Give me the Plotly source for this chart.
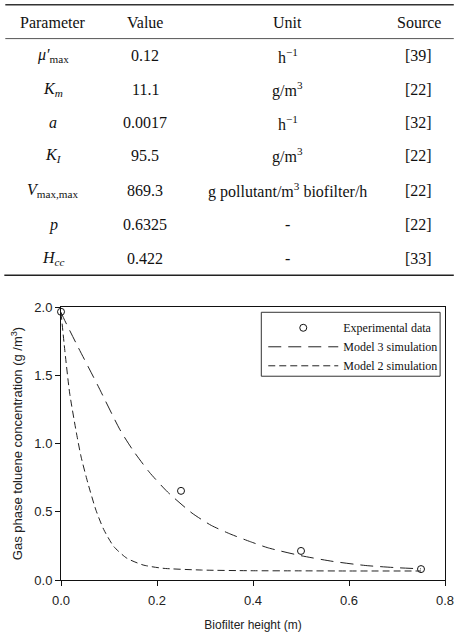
import plotly.graph_objects as go

# ---------------- table data ----------------
tbl_header = ["Parameter", "Value", "Unit", "Source"]
tbl_param = ["<i>μ′</i><sub>max</sub>", "<i>K<sub>m</sub></i>", "<i>a</i>", "<i>K<sub>I</sub></i>",
             "<i>V</i><sub>max,max</sub>", "<i>p</i>", "<i>H<sub>cc</sub></i>"]
tbl_value = ["0.12", "11.1", "0.0017", "95.5", "869.3", "0.6325", "0.422"]
tbl_unit = ["h<sup>−1</sup>", "g/m<sup>3</sup>", "h<sup>−1</sup>", "g/m<sup>3</sup>",
            "g pollutant/m<sup>3</sup> biofilter/h", "-", "-"]
tbl_source = ["[39]", "[22]", "[32]", "[22]", "[22]", "[22]", "[33]"]

# ---------------- chart data ----------------
exp_x = [0.0, 0.25, 0.5, 0.75]
exp_y = [1.965, 0.653, 0.213, 0.080]

m3_x = [0.0, 0.008, 0.035, 0.076, 0.123, 0.150, 0.184, 0.222, 0.273, 0.313, 0.354, 0.395,
        0.432, 0.500, 0.567, 0.635, 0.700, 0.750]
m3_y = [1.96, 1.90, 1.71, 1.43, 1.10, 0.95, 0.79, 0.645, 0.49, 0.40, 0.335, 0.28,
        0.235, 0.178, 0.136, 0.106, 0.090, 0.082]

m2_x = [0.0, 0.008, 0.018, 0.032, 0.042, 0.056, 0.073, 0.089, 0.110, 0.137, 0.171, 0.212,
        0.293, 0.395, 0.500, 0.600, 0.750]
m2_y = [1.96, 1.68, 1.37, 1.08, 0.90, 0.71, 0.51, 0.37, 0.245, 0.16, 0.11, 0.086,
        0.073, 0.068, 0.067, 0.066, 0.066]

x_ticks = [0.0, 0.2, 0.4, 0.6, 0.8]
y_ticks = [0.0, 0.5, 1.0, 1.5, 2.0]

# ---------------- layout geometry (pixels) ----------------
W, H = 464, 640
L, R, T, B = 61, 454, 306.7, 580
PW, PH = R - L, B - T


def px(xp):
    return (xp - L) / PW


def py(yp):
    return (B - yp) / PH


fig = go.Figure()

fig.add_trace(go.Scatter(x=exp_x, y=exp_y, mode="markers", name="Experimental data",
                         marker=dict(symbol="circle", size=7, color="white",
                                     line=dict(color="#111", width=1)),
                         cliponaxis=False))
fig.add_trace(go.Scatter(x=m3_x, y=m3_y, mode="lines", name="Model 3 simulation",
                         line=dict(color="#222", width=1, dash="13px,7px", shape="spline",
                                   smoothing=0.6)))
fig.add_trace(go.Scatter(x=m2_x, y=m2_y, mode="lines", name="Model 2 simulation",
                         line=dict(color="#222", width=1, dash="7px,4px", shape="spline",
                                   smoothing=0.6)))

serif = "Liberation Serif, Times New Roman, serif"
sans = "Liberation Sans, Arial, sans-serif"

annotations = []
col_x = [53, 147, 293, 427]
header_y = 22
row_y = [55, 88.5, 122, 155.5, 190.5, 224.5, 258.5]
for cx, txt in zip(col_x, tbl_header):
    annotations.append(dict(x=px(cx), y=py(header_y), xref="paper", yref="paper", text=txt,
                            showarrow=False, xanchor="center", yanchor="middle",
                            font=dict(family=serif, size=16, color="#111")))
for col, cx in zip([tbl_param, tbl_value, tbl_unit, tbl_source], col_x):
    for txt, ry in zip(col, row_y):
        annotations.append(dict(x=px(cx), y=py(ry), xref="paper", yref="paper", text=txt,
                                showarrow=False, xanchor="center", yanchor="middle",
                                font=dict(family=serif, size=16, color="#111")))

shapes = [
    dict(type="line", xref="paper", yref="paper", x0=px(4), x1=px(463), y0=py(4), y1=py(4),
         line=dict(color="#333", width=1.5)),
    dict(type="line", xref="paper", yref="paper", x0=px(4), x1=px(463), y0=py(38), y1=py(38),
         line=dict(color="#555", width=1)),
    dict(type="line", xref="paper", yref="paper", x0=px(3), x1=px(463), y0=py(275), y1=py(275),
         line=dict(color="#222", width=1.5)),
    dict(type="rect", xref="paper", yref="paper", x0=px(266), x1=px(449), y0=py(312), y1=py(376),
         line=dict(color="#333", width=1), fillcolor="rgba(0,0,0,0)"),
]

fig.update_layout(
    width=W, height=H,
    margin=dict(l=L, r=W - R, t=T, b=H - B, pad=0),
    paper_bgcolor="white", plot_bgcolor="white",
    showlegend=True,
    legend=dict(x=px(268), y=py(313), xanchor="left", yanchor="top",
                bgcolor="rgba(0,0,0,0)", borderwidth=0, itemwidth=70,
                font=dict(family=serif, size=12, color="#111"), tracegroupgap=0),
    annotations=annotations,
    shapes=shapes,
    xaxis=dict(range=[0, 0.8], tickvals=x_ticks, ticktext=[f"{v:.1f}" for v in x_ticks],
               showgrid=False, zeroline=False, showline=True, linecolor="#111", linewidth=1,
               mirror=True, ticks="outside", ticklen=5, tickcolor="#111", ticklabelstandoff=3,
               tickfont=dict(family=sans, size=13, color="#222"),
               title=dict(text="Biofilter height (m)", font=dict(family=sans, size=12, color="#222"),
                          standoff=14)),
    yaxis=dict(range=[0, 2.0], tickvals=y_ticks, ticktext=[f"{v:.1f}" for v in y_ticks],
               showgrid=False, zeroline=False, showline=True, linecolor="#111", linewidth=1,
               mirror=True, ticks="outside", ticklen=5, tickcolor="#111",
               tickfont=dict(family=sans, size=13, color="#222"),
               title=dict(text="Gas phase toluene concentration (g /m<sup>3</sup>)",
                          font=dict(family=sans, size=13, color="#222"), standoff=8)),
)

fig.write_html("out.html")
